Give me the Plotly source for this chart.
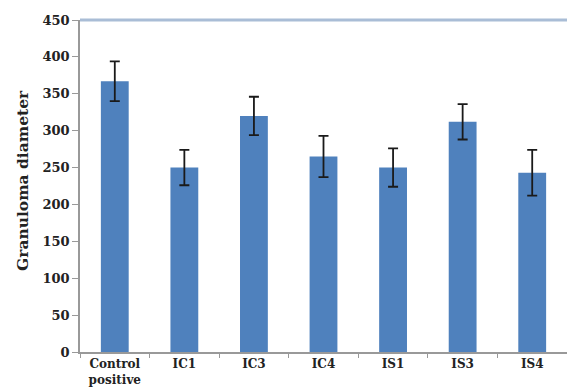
import plotly.graph_objects as go

categories = ["Control<br>positive", "IC1", "IC3", "IC4", "IS1", "IS3", "IS4"]
values = [367, 250, 320, 265, 250, 312, 243]
errors = [27, 24, 26, 28, 26, 24, 31]
y_ticks = [0, 50, 100, 150, 200, 250, 300, 350, 400, 450]

font_family = "DejaVu Serif, Liberation Serif, serif"

fig = go.Figure()
fig.add_trace(go.Bar(
    x=categories,
    y=values,
    width=0.4,
    marker=dict(color="#4F81BD", line=dict(width=0)),
    error_y=dict(type="data", array=errors, visible=True,
                 color="#1a1a1a", thickness=1.8, width=5),
))

fig.update_layout(
    width=567, height=389,
    margin=dict(l=80, r=0, t=20, b=37),
    paper_bgcolor="white",
    plot_bgcolor="white",
    showlegend=False,
    font=dict(family=font_family, color="#222222"),
    xaxis=dict(
        type="category",
        automargin=False,
        showline=True, linecolor="#999999", linewidth=1.5,
        ticks="outside", tickson="boundaries", ticklen=4, tickcolor="#999999",
        tickfont=dict(family=font_family, size=12, color="#222222"),
        tickvals=categories,
        ticktext=[f"<b>{c}</b>" for c in categories],
        showgrid=False,
    ),
    yaxis=dict(
        automargin=False,
        range=[0, 450],
        tickvals=y_ticks,
        ticktext=[f"<b>{v}</b>" for v in y_ticks],
        showline=True, linecolor="#999999", linewidth=1.5,
        ticks="outside", ticklen=6, tickcolor="#999999",
        tickfont=dict(family=font_family, size=13, color="#222222"),
        showgrid=False, zeroline=False,
    ),
)

fig.add_annotation(text="<b>Granuloma diameter</b>", textangle=-90,
                   xref="paper", yref="paper", x=(22 - 80) / 487, y=0.515,
                   xanchor="center", yanchor="middle", showarrow=False,
                   font=dict(family=font_family, size=15.5, color="#222222"))

fig.add_shape(type="line", xref="paper", yref="paper", x0=0, x1=1, y0=1, y1=1,
              line=dict(color="#A9BDD6", width=3))

fig.write_html("out.html", config={"displayModeBar": False},
               post_script="document.body.style.margin='0';")
